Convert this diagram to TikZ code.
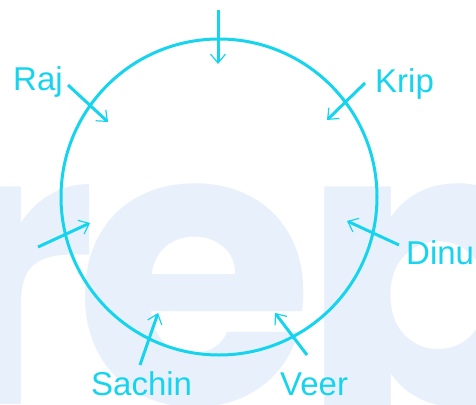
\documentclass[tikz,border=0pt]{standalone}
\usepackage{fontspec}
\setmainfont{Liberation Sans}
\newfontfamily\wmfont{Poppins}
\usetikzlibrary{arrows.meta}
\definecolor{cy}{RGB}{22,212,238}
\definecolor{wm}{RGB}{232,241,251}
\tikzset{
  lbl/.style={text=cy, font=\fontsize{33}{33}\selectfont, inner sep=0pt, anchor=base west},
  arr/.style={draw=cy, line width=3pt, -{Straight Barb[length=9pt,width=15pt,line width=1.2pt]}},
  wmletter/.style={text=wm, font=\wmfont\bfseries\fontsize{390}{390}\selectfont, inner sep=0pt, anchor=base west}
}
\begin{document}
\begin{tikzpicture}[x=1pt,y=-1pt]
\useasboundingbox (0,0) rectangle (476,404);
\fill[white] (0,0) rectangle (476,404);
\begin{scope}
\clip (0,0) rectangle (476,404);
\node[wmletter] (wr) at (-70,404) {r};
\node[wmletter] (we) at (74,404) {e};
\node[wmletter] (wp) at (300,404) {p};
\end{scope}
\node[draw=cy, line width=3pt, circle, minimum size=316pt, inner sep=0pt] (c) at (219,197) {};
% labels
\node[lbl] (raj) at (13,90) {Raj};
\node[lbl] (krip) at (375,92) {Krip};
\node[lbl] (dinu) at (406,264) {Dinu};
\node[lbl] (sachin) at (91,395) {Sachin};
\node[lbl] (veer) at (280,395) {Veer};
% arrow ends
\coordinate (s0) at (218,10);   \coordinate (t0) at (218,64);
\coordinate (s1) at (68,85);    \coordinate (t1) at (108,122);
\coordinate (s2) at (365,83);   \coordinate (t2) at (327,120);
\coordinate (s3) at (38,247);   \coordinate (t3) at (90,223);
\coordinate (s4) at (399,245);  \coordinate (t4) at (347,221);
\coordinate (s5) at (140,365);  \coordinate (t5) at (158,313);
\coordinate (s6) at (307,355);  \coordinate (t6) at (275,313);
\draw[arr] (s0) -- (t0);
\draw[arr] (s1) -- (t1);
\draw[arr] (s2) -- (t2);
\draw[arr] (s3) -- (t3);
\draw[arr] (s4) -- (t4);
\draw[arr] (s5) -- (t5);
\draw[arr] (s6) -- (t6);
\end{tikzpicture}
\end{document}
